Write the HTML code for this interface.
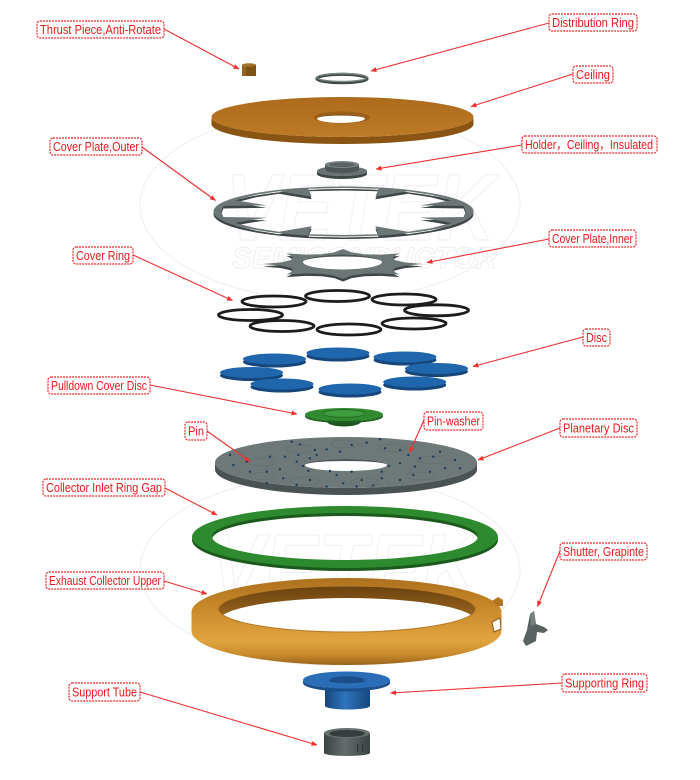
<!DOCTYPE html>
<html><head><meta charset="utf-8"><style>
html,body{margin:0;padding:0;background:#fff;}
svg{display:block;}
.lb rect{fill:#fff;stroke:#ee2a2a;stroke-width:1.2;stroke-dasharray:2 1;}
.lb text{fill:#e8191c;font-family:"Liberation Sans Narrow","Liberation Sans","Noto Sans CJK SC",sans-serif;font-size:12.5px;}
.ar{stroke:#f03030;stroke-width:1.1;fill:none;}
</style></head><body>
<svg width="700" height="780" viewBox="0 0 700 780" xmlns="http://www.w3.org/2000/svg">
<defs>
<marker id="ah" markerWidth="6" markerHeight="6" refX="5.5" refY="3" orient="auto" markerUnits="userSpaceOnUse"><path d="M0,0.5 L6,3 L0,5.5 z" fill="#f03030"/></marker>
<linearGradient id="exg" x1="0" y1="0" x2="0" y2="1">
<stop offset="0" stop-color="#ad701e"/><stop offset="0.3" stop-color="#c68628"/><stop offset="0.72" stop-color="#e0a43e"/><stop offset="0.88" stop-color="#c98b2c"/><stop offset="1" stop-color="#98621a"/></linearGradient>
<linearGradient id="exw" x1="0" y1="0" x2="0" y2="1"><stop offset="0" stop-color="#6a420e"/><stop offset="1" stop-color="#b27426"/></linearGradient>
<linearGradient id="btube" x1="0" y1="0" x2="1" y2="0"><stop offset="0" stop-color="#17467c"/><stop offset="0.45" stop-color="#2f74bc"/><stop offset="1" stop-color="#17467c"/></linearGradient>
<linearGradient id="gtube" x1="0" y1="0" x2="1" y2="0"><stop offset="0" stop-color="#3c4343"/><stop offset="0.45" stop-color="#646c6c"/><stop offset="1" stop-color="#3c4343"/></linearGradient>
<linearGradient id="ceil" x1="0" y1="0" x2="0" y2="1"><stop offset="0" stop-color="#ad6a1c"/><stop offset="1" stop-color="#bd7a26"/></linearGradient>
<clipPath id="exh"><ellipse cx="347" cy="609" rx="128.5" ry="23"/></clipPath>
</defs>

<!-- watermark -->
<g fill="none" stroke="#f1f1f1" stroke-width="1.2" font-family="Liberation Sans, sans-serif" font-weight="bold" font-style="italic">
<text x="225" y="240" font-size="95" textLength="270" lengthAdjust="spacingAndGlyphs">VETEK</text>
<text x="232" y="268" font-size="30" textLength="265" lengthAdjust="spacingAndGlyphs">SEMICONDUCTOR</text>
<text x="210" y="600" font-size="95" textLength="270" lengthAdjust="spacingAndGlyphs">VETEK</text>
<text x="232" y="642" font-size="30" textLength="265" lengthAdjust="spacingAndGlyphs">SEMICONDUCTOR</text>
<ellipse cx="330" cy="205" rx="190" ry="95"/>
<ellipse cx="330" cy="570" rx="190" ry="95"/>
</g>

<!-- Thrust piece -->
<rect x="242" y="65" width="14" height="11" fill="#7e5114"/>
<rect x="242" y="65" width="4" height="11" fill="#94621e"/>
<ellipse cx="249" cy="65" rx="7" ry="1.8" fill="#a8702a"/>

<!-- Distribution ring -->
<ellipse cx="342" cy="78.5" rx="25" ry="4.2" fill="none" stroke="#3f4747" stroke-width="3.2"/>
<ellipse cx="342" cy="77.5" rx="25" ry="4" fill="none" stroke="#7c8585" stroke-width="1.4"/>

<!-- Ceiling -->
<path d="M211.5,117 A131,20 0 0 0 473.5,117 L473.5,124 A131,20 0 0 1 211.5,124 Z" fill="#8a5412"/>
<ellipse cx="342.5" cy="117" rx="131" ry="20" fill="url(#ceil)"/>
<ellipse cx="342" cy="117.5" rx="28" ry="6" fill="#9c5d15"/>
<ellipse cx="341" cy="118.5" rx="24" ry="4.5" fill="#fff"/>
<path d="M317,118.5 A24,4.5 0 0 1 365,118.5 A24,3 0 0 0 317,118.5 Z" fill="#7a4a10"/>

<!-- Holder -->
<path d="M317,171 A25,5 0 0 0 367,171 L367,174 A25,5 0 0 1 317,174 Z" fill="#3f4646"/>
<ellipse cx="342" cy="171" rx="25" ry="5" fill="#687071"/>
<path d="M325,164.5 L325,169.5 A17,3.5 0 0 0 359,169.5 L359,164.5 Z" fill="#4e5656"/>
<ellipse cx="342" cy="164.5" rx="17" ry="3.5" fill="#7b8484"/>
<ellipse cx="342" cy="164.8" rx="13" ry="2.3" fill="#5a6262"/>

<!-- Cover plate outer -->
<g transform="translate(343.5,214) scale(130,25)">
<path fill-rule="evenodd" fill="#3e4546" d="M1,0 A1,1 0 1 1 -1,0 A1,1 0 1 1 1,0 Z M.94,0 L.924,.222 .591,.245 .835,.453 .672,.672 .496,.810 .245,.591 .270,.911 0,.94 -.270,.911 -.245,.591 -.496,.810 -.672,.672 -.835,.453 -.591,.245 -.924,.222 -.94,0 -.924,-.222 -.591,-.245 -.835,-.453 -.672,-.672 -.496,-.810 -.245,-.591 -.270,-.911 0,-.94 .270,-.911 .245,-.591 .496,-.810 .672,-.672 .835,-.453 .591,-.245 .924,-.222 Z"/>
</g>
<g transform="translate(343.5,211.5) scale(130,25)">
<path fill-rule="evenodd" fill="#6d7677" d="M1,0 A1,1 0 1 1 -1,0 A1,1 0 1 1 1,0 Z M.94,0 L.924,.222 .591,.245 .835,.453 .672,.672 .496,.810 .245,.591 .270,.911 0,.94 -.270,.911 -.245,.591 -.496,.810 -.672,.672 -.835,.453 -.591,.245 -.924,.222 -.94,0 -.924,-.222 -.591,-.245 -.835,-.453 -.672,-.672 -.496,-.810 -.245,-.591 -.270,-.911 0,-.94 .270,-.911 .245,-.591 .496,-.810 .672,-.672 .835,-.453 .591,-.245 .924,-.222 Z"/>
</g>

<!-- Cover plate inner -->
<g transform="translate(343,266.5) scale(80,15)">
<polygon fill="#3e4546" points="1,0 .772,.108 .647,.268 .623,.470 .707,.707 .470,.623 .268,.647 .108,.772 0,1 -.108,.772 -.268,.647 -.470,.623 -.707,.707 -.623,.470 -.647,.268 -.772,.108 -1,0 -.772,-.108 -.647,-.268 -.623,-.470 -.707,-.707 -.470,-.623 -.268,-.647 -.108,-.772 0,-1 .108,-.772 .268,-.647 .470,-.623 .707,-.707 .623,-.470 .647,-.268 .772,-.108"/>
</g>
<g transform="translate(343,264) scale(80,15)">
<polygon fill="#6d7677" points="1,0 .772,.108 .647,.268 .623,.470 .707,.707 .470,.623 .268,.647 .108,.772 0,1 -.108,.772 -.268,.647 -.470,.623 -.707,.707 -.623,.470 -.647,.268 -.772,.108 -1,0 -.772,-.108 -.647,-.268 -.623,-.470 -.707,-.707 -.470,-.623 -.268,-.647 -.108,-.772 0,-1 .108,-.772 .268,-.647 .470,-.623 .707,-.707 .623,-.470 .647,-.268 .772,-.108"/>
</g>
<ellipse cx="342.5" cy="262" rx="39.5" ry="7.5" fill="#fff"/>
<path d="M303,262 A39.5,7.5 0 0 1 382,262 A39.5,5.5 0 0 0 303,262 Z" fill="#4a5252"/>

<!-- Cover rings -->
<g fill="none" stroke="#1c1c1c" stroke-width="2.8">
<ellipse cx="337.5" cy="296" rx="32" ry="5.5"/>
<ellipse cx="404" cy="299.5" rx="32" ry="5.5"/>
<ellipse cx="274" cy="301.5" rx="32" ry="5.5"/>
<ellipse cx="436.5" cy="310.3" rx="32" ry="5.5"/>
<ellipse cx="250.5" cy="315" rx="32" ry="5.5"/>
<ellipse cx="414" cy="323.5" rx="32" ry="5.5"/>
<ellipse cx="282" cy="326" rx="32" ry="5.5"/>
<ellipse cx="349" cy="329.5" rx="32" ry="5.5"/>
</g>

<!-- Discs -->
<g>
<ellipse cx="338" cy="356" rx="31.5" ry="5.5" fill="#16467a"/><ellipse cx="338" cy="353" rx="31.5" ry="5.5" fill="#2066ad"/>
<ellipse cx="405" cy="360" rx="31.5" ry="5.5" fill="#16467a"/><ellipse cx="405" cy="357" rx="31.5" ry="5.5" fill="#2066ad"/>
<ellipse cx="274.5" cy="362" rx="31.5" ry="5.5" fill="#16467a"/><ellipse cx="274.5" cy="359" rx="31.5" ry="5.5" fill="#2066ad"/>
<ellipse cx="436.5" cy="371.5" rx="31.5" ry="5.5" fill="#16467a"/><ellipse cx="436.5" cy="368.5" rx="31.5" ry="5.5" fill="#2066ad"/>
<ellipse cx="251.5" cy="375.5" rx="31.5" ry="5.5" fill="#16467a"/><ellipse cx="251.5" cy="372.5" rx="31.5" ry="5.5" fill="#2066ad"/>
<ellipse cx="414.7" cy="385" rx="31.5" ry="5.5" fill="#16467a"/><ellipse cx="414.7" cy="382" rx="31.5" ry="5.5" fill="#2066ad"/>
<ellipse cx="282" cy="387" rx="31.5" ry="5.5" fill="#16467a"/><ellipse cx="282" cy="384" rx="31.5" ry="5.5" fill="#2066ad"/>
<ellipse cx="350" cy="392" rx="31.5" ry="5.5" fill="#16467a"/><ellipse cx="350" cy="389" rx="31.5" ry="5.5" fill="#2066ad"/>
</g>

<!-- Pulldown cover disc -->
<ellipse cx="344" cy="421.5" rx="17" ry="5" fill="#1c561c"/>
<path d="M305,414.5 A39,6.5 0 0 0 383,414.5 L383,416.5 A39,6.5 0 0 1 305,416.5 Z" fill="#1f5f1f"/>
<ellipse cx="344" cy="414.5" rx="39" ry="6.5" fill="#2f8a2f"/>
<ellipse cx="344" cy="413.5" rx="21" ry="3.8" fill="#3f9c3f" stroke="#236b23" stroke-width="0.8"/>

<!-- Planetary disc -->
<path d="M215,462.5 A131,25.5 0 0 0 477,462.5 L477,469.5 A131,25.5 0 0 1 215,469.5 Z" fill="#4a5253"/>
<ellipse cx="346" cy="462.5" rx="131" ry="25.5" fill="#6f7879"/>
<g fill="none" stroke="#656e6f" stroke-width="0.8">
<ellipse cx="262" cy="462" rx="14" ry="4"/><ellipse cx="300" cy="449" rx="14" ry="4"/><ellipse cx="345" cy="444" rx="14" ry="4"/><ellipse cx="392" cy="448" rx="14" ry="4"/><ellipse cx="432" cy="460" rx="14" ry="4"/><ellipse cx="420" cy="476" rx="14" ry="4"/><ellipse cx="365" cy="482" rx="14" ry="4"/><ellipse cx="305" cy="481" rx="14" ry="4"/><ellipse cx="262" cy="476" rx="12" ry="3.5"/>
</g>
<ellipse cx="346" cy="465" rx="41" ry="6" fill="#fff"/>
<path d="M305,465 A41,6 0 0 1 387,465 A41,4 0 0 0 305,465 Z" fill="#4a5253"/>
<g fill="#1d3d5c">
<circle cx="291.7" cy="441.7" r="1.2"/><circle cx="300" cy="444.3" r="1.2"/><circle cx="315" cy="450" r="1.2"/><circle cx="326.7" cy="449.3" r="1.2"/><circle cx="340" cy="451.7" r="1.2"/><circle cx="351.7" cy="445" r="1.2"/><circle cx="366.7" cy="442.7" r="1.2"/><circle cx="380" cy="439.3" r="1.2"/><circle cx="385" cy="448.3" r="1.2"/><circle cx="400" cy="450" r="1.2"/><circle cx="408.3" cy="455" r="1.2"/><circle cx="420" cy="458.3" r="1.2"/><circle cx="433.3" cy="456.7" r="1.2"/><circle cx="440" cy="451.7" r="1.2"/><circle cx="455" cy="460" r="1.2"/><circle cx="460" cy="468.3" r="1.2"/><circle cx="445" cy="468.3" r="1.2"/><circle cx="430" cy="471.7" r="1.2"/><circle cx="415" cy="466.7" r="1.2"/><circle cx="400" cy="463.3" r="1.2"/><circle cx="389" cy="466" r="1.2"/><circle cx="381.7" cy="471.7" r="1.2"/><circle cx="351.7" cy="471.7" r="1.2"/><circle cx="330" cy="471" r="1.2"/><circle cx="308.3" cy="470.7" r="1.2"/><circle cx="303" cy="466" r="1.2"/><circle cx="296.7" cy="461.7" r="1.2"/><circle cx="280" cy="469.3" r="1.2"/><circle cx="266.7" cy="471.7" r="1.2"/><circle cx="250" cy="471.7" r="1.2"/><circle cx="246.7" cy="461.7" r="1.2"/><circle cx="230" cy="455" r="1.2"/><circle cx="233.3" cy="465" r="1.2"/><circle cx="270" cy="456.7" r="1.2"/><circle cx="285" cy="456.7" r="1.2"/><circle cx="298.3" cy="455" r="1.2"/><circle cx="310" cy="458.3" r="1.2"/><circle cx="316.7" cy="455" r="1.2"/><circle cx="310" cy="480" r="1.2"/><circle cx="336.7" cy="475" r="1.2"/><circle cx="343.3" cy="483.3" r="1.2"/><circle cx="361.7" cy="480" r="1.2"/><circle cx="381.7" cy="478.3" r="1.2"/><circle cx="400" cy="480" r="1.2"/><circle cx="413.3" cy="475" r="1.2"/><circle cx="283.3" cy="478.3" r="1.2"/><circle cx="266.7" cy="483.3" r="1.2"/><circle cx="296.7" cy="485" r="1.2"/><circle cx="326.7" cy="486.5" r="1.2"/><circle cx="356.7" cy="486.5" r="1.2"/><circle cx="373.3" cy="485.5" r="1.2"/>
</g>

<!-- Collector inlet ring (green) -->
<path fill-rule="evenodd" fill="#1b5a1c" d="M192,540 A153,31 0 1 1 498,540 A153,31 0 1 1 192,540 Z M212,539.5 A133,23.5 0 1 0 478,539.5 A133,23.5 0 1 0 212,539.5 Z"/>
<path fill-rule="evenodd" fill="#2e8a2e" d="M192,537 A153,31 0 1 1 498,537 A153,31 0 1 1 192,537 Z M212,536.5 A133,23.5 0 1 0 478,536.5 A133,23.5 0 1 0 212,536.5 Z"/>

<!-- Exhaust collector upper -->
<path d="M191.5,612 A155,34 0 0 1 501.5,612 L501.5,631 A155,34 0 0 1 191.5,631 Z" fill="url(#exg)"/>
<g clip-path="url(#exh)">
<ellipse cx="347" cy="609" rx="128.5" ry="23" fill="url(#exw)"/>
<ellipse cx="347" cy="621" rx="128.5" ry="23" fill="#fff"/>
</g>
<ellipse cx="347" cy="609" rx="128.5" ry="23" fill="none" stroke="#b77a26" stroke-width="1"/>
<path d="M492,601 L498,597 L503,600 L503,606 L497,606 Z" fill="#b47624"/>
<path d="M492,622 L500,618 L501,629 L494,632 Z" fill="#fff" stroke="#8a5a1a" stroke-width="1"/>

<!-- Shutter -->
<path d="M530,614 L534,611 L536,624 L544,627 L548,630 L544,633 L537,632 L536,641 L526,646 L523,641 L527,630 Z" fill="#596161"/>
<path d="M530,614 L534,611 L536,624 L531,626 Z" fill="#788080"/>

<!-- Supporting ring -->
<rect x="325" y="684" width="45" height="22" fill="url(#btube)"/>
<ellipse cx="347.5" cy="706" rx="22.5" ry="3.5" fill="url(#btube)"/>
<path d="M303,680 A43.5,8.5 0 0 0 390,680 L390,683 A43.5,8.5 0 0 1 303,683 Z" fill="#1a4f8c"/>
<ellipse cx="346.5" cy="680" rx="43.5" ry="8.5" fill="#2a6db6"/>
<ellipse cx="347" cy="680.5" rx="18" ry="4.2" fill="#1b4f8c"/>
<path d="M329,681 A18,4.2 0 0 0 365,681 A18,2.5 0 0 1 329,681 Z" fill="#2f73bb"/>

<!-- Support tube -->
<rect x="324" y="733" width="46" height="20" fill="url(#gtube)"/>
<ellipse cx="347" cy="753" rx="23" ry="3" fill="url(#gtube)"/>
<ellipse cx="347" cy="733" rx="23" ry="5" fill="#687070"/>
<ellipse cx="347" cy="733.5" rx="18" ry="3.5" fill="#363d3d"/>
<rect x="357" y="744" width="1.2" height="8" fill="#2e3434"/>
<rect x="362" y="744" width="1.2" height="8" fill="#2e3434"/>

<!-- Connectors -->
<g class="ar" marker-end="url(#ah)">
<line x1="164" y1="29" x2="239" y2="69"/>
<line x1="549" y1="23" x2="371" y2="71"/>
<line x1="573" y1="74" x2="471" y2="106.5"/>
<line x1="142" y1="147" x2="215.5" y2="200.5"/>
<line x1="522" y1="145" x2="376" y2="169"/>
<line x1="549" y1="239" x2="427" y2="262.5"/>
<line x1="133" y1="255" x2="232.5" y2="300.5"/>
<line x1="583" y1="337" x2="473" y2="366.5"/>
<line x1="150" y1="385" x2="297" y2="414"/>
<line x1="207" y1="431" x2="250" y2="461.5"/>
<line x1="424" y1="420" x2="409.5" y2="452.5"/>
<line x1="560" y1="428" x2="478" y2="460"/>
<line x1="165" y1="488" x2="217" y2="515"/>
<line x1="560" y1="551" x2="537.5" y2="606.5"/>
<line x1="164" y1="581" x2="207" y2="594"/>
<line x1="562" y1="683" x2="390.5" y2="693"/>
<line x1="140" y1="692" x2="317" y2="745"/>
</g>

<!-- Labels -->
<g class="lb">
<rect x="37" y="21" width="127" height="17" rx="3"/><text x="40" y="34" textLength="121" lengthAdjust="spacingAndGlyphs">Thrust Piece,Anti-Rotate</text>
<rect x="549" y="14" width="88" height="17" rx="3"/><text x="552" y="27" textLength="82" lengthAdjust="spacingAndGlyphs">Distribution Ring</text>
<rect x="573" y="66" width="40" height="17" rx="3"/><text x="576" y="79" textLength="34" lengthAdjust="spacingAndGlyphs">Ceiling</text>
<rect x="50" y="138" width="92" height="17" rx="3"/><text x="53" y="151" textLength="86" lengthAdjust="spacingAndGlyphs">Cover Plate,Outer</text>
<rect x="522" y="136" width="135" height="17" rx="3"/><text x="525" y="149" textLength="128" lengthAdjust="spacingAndGlyphs">Holder，Ceiling，Insulated</text>
<rect x="549" y="230" width="87" height="17" rx="3"/><text x="552" y="243" textLength="81" lengthAdjust="spacingAndGlyphs">Cover Plate,Inner</text>
<rect x="73" y="247" width="60" height="17" rx="3"/><text x="76" y="260" textLength="54" lengthAdjust="spacingAndGlyphs">Cover Ring</text>
<rect x="583" y="329" width="27" height="17" rx="3"/><text x="586" y="342" textLength="21" lengthAdjust="spacingAndGlyphs">Disc</text>
<rect x="48" y="377" width="102" height="17" rx="3"/><text x="51" y="390" textLength="96" lengthAdjust="spacingAndGlyphs">Pulldown Cover Disc</text>
<rect x="185" y="422" width="22" height="18" rx="3"/><text x="188" y="435.5" textLength="16" lengthAdjust="spacingAndGlyphs">Pin</text>
<rect x="424" y="412" width="59" height="18" rx="3"/><text x="427" y="425.5" textLength="53" lengthAdjust="spacingAndGlyphs">Pin-washer</text>
<rect x="560" y="419" width="77" height="18" rx="3"/><text x="563" y="432.5" textLength="71" lengthAdjust="spacingAndGlyphs">Planetary Disc</text>
<rect x="43" y="479" width="122" height="17" rx="3"/><text x="46" y="492" textLength="116" lengthAdjust="spacingAndGlyphs">Collector Inlet Ring Gap</text>
<rect x="560" y="543" width="87" height="17" rx="3"/><text x="563" y="556" textLength="81" lengthAdjust="spacingAndGlyphs">Shutter, Grapinte</text>
<rect x="46" y="572" width="118" height="17" rx="3"/><text x="49" y="585" textLength="112" lengthAdjust="spacingAndGlyphs">Exhaust Collector Upper</text>
<rect x="562" y="674" width="85" height="18" rx="3"/><text x="565" y="687.5" textLength="79" lengthAdjust="spacingAndGlyphs">Supporting Ring</text>
<rect x="69" y="683" width="71" height="18" rx="3"/><text x="72" y="696.5" textLength="65" lengthAdjust="spacingAndGlyphs">Support Tube</text>
</g>
</svg>
</body></html>
